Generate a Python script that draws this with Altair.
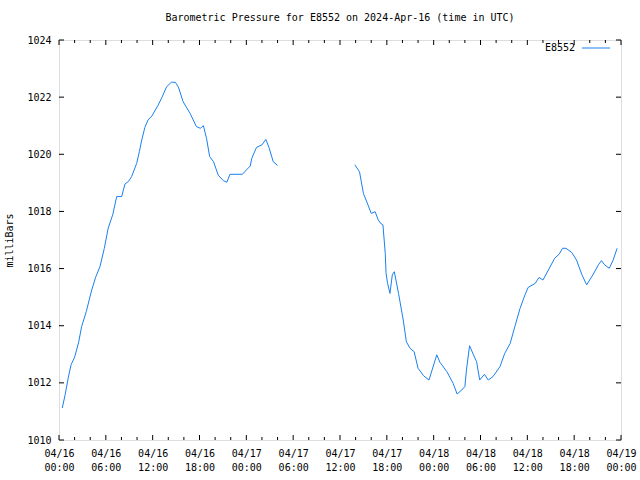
import altair as alt
import pandas as pd

# ---- data (hours after 2024-04-16 00:00 UTC, pressure in mbar) ----
seg1_hours = [0.42, 0.8, 1.2, 1.54, 2.0, 2.5, 2.9, 3.5, 4.19, 4.7, 5.25, 5.8, 6.3, 6.9,
              7.39, 8.03, 8.45, 8.9, 9.3, 9.95, 10.3, 10.6, 11.0, 11.4, 11.9, 12.7, 13.2,
              13.8, 14.4, 14.9, 15.3, 15.9, 16.8, 17.6, 18.1, 18.5, 18.9, 19.3, 19.8, 20.4,
              21.05, 21.5, 21.9, 23.5, 24.0, 24.5, 24.7, 25.3, 26.0, 26.5, 26.9, 27.45, 28.0]
seg1_mbar = [1011.12, 1011.6, 1012.2, 1012.63, 1012.9, 1013.4, 1013.97, 1014.5, 1015.25,
             1015.7, 1016.07, 1016.7, 1017.41, 1017.9, 1018.52, 1018.52, 1018.96, 1019.05,
             1019.22, 1019.68, 1020.1, 1020.5, 1020.94, 1021.2, 1021.34, 1021.72, 1022.0,
             1022.37, 1022.52, 1022.52, 1022.35, 1021.84, 1021.43, 1020.97, 1020.91, 1021.0,
             1020.56, 1019.92, 1019.74, 1019.27, 1019.08, 1019.02, 1019.3, 1019.3, 1019.45,
             1019.59, 1019.86, 1020.24, 1020.33, 1020.52, 1020.24, 1019.74, 1019.61]

seg2_hours = [37.9, 38.5, 39.0, 39.6, 40.0, 40.5, 40.9, 41.3, 41.5, 41.8, 41.9, 42.1, 42.4,
              42.7, 42.96, 43.5, 44.1, 44.5, 44.97, 45.5, 46.0, 46.7, 47.4, 48.4, 48.8, 49.7,
              50.5, 51.0, 51.6, 52.0, 52.2, 52.6, 53.1, 53.5, 53.9, 54.5, 55.0, 55.6, 56.5,
              57.1, 57.8, 58.4, 59.06, 59.7, 60.1, 61.0, 61.5, 62.0, 62.7, 63.5, 64.1, 64.5,
              64.95, 65.7, 66.3, 67.0, 67.6, 68.4, 69.1, 69.5, 69.9, 70.5, 71.0, 71.5]
seg2_mbar = [1019.63, 1019.39, 1018.63, 1018.22, 1017.93, 1017.99, 1017.7, 1017.56, 1017.53,
             1016.53, 1015.83, 1015.48, 1015.13, 1015.78, 1015.89, 1015.13, 1014.2, 1013.44,
             1013.21, 1013.09, 1012.51, 1012.25, 1012.1, 1012.98, 1012.72, 1012.39, 1011.98,
             1011.61, 1011.75, 1011.87, 1012.45, 1013.3, 1012.98, 1012.74, 1012.1, 1012.3,
             1012.1, 1012.22, 1012.57, 1013.03, 1013.38, 1013.97, 1014.6, 1015.08, 1015.34,
             1015.48, 1015.69, 1015.6, 1015.95, 1016.36, 1016.51, 1016.71, 1016.71, 1016.56,
             1016.3, 1015.78, 1015.43, 1015.78, 1016.13, 1016.28, 1016.13, 1016.01, 1016.3,
             1016.71]

station = "E8552"
title_text = "Barometric Pressure for E8552 on 2024-Apr-16 (time in UTC)"
y_ticks = [1010, 1012, 1014, 1016, 1018, 1020, 1022, 1024]
major_hours = list(range(0, 73, 6))
minor_hours = [h for h in range(0, 73, 2) if h % 6 != 0]

FONT = "DejaVu Sans Mono"
LINE_COLOR = "#1a80f0"
W, H = 562, 400
MAJ, MIN = 5, 3

base = pd.Timestamp("2024-04-16 00:00:00")


def to_time(h):
    return (base + pd.to_timedelta(h, unit="h")).strftime("%Y-%m-%dT%H:%M:%S")


df = pd.DataFrame({
    "t": [to_time(h) for h in seg1_hours] + [to_time(h) for h in seg2_hours],
    "p": seg1_mbar + seg2_mbar,
    "seg": [1] * len(seg1_hours) + [2] * len(seg2_hours),
})
major_df = pd.DataFrame({"t": [to_time(h) for h in major_hours]})
minor_df = pd.DataFrame({"t": [to_time(h) for h in minor_hours]})
ytick_df = pd.DataFrame({"p": y_ticks})


def dt(h):
    d = base + pd.to_timedelta(h, unit="h")
    return alt.DateTime(year=d.year, month=d.month, date=d.day, hours=d.hour)


xscale = alt.Scale(domain=[dt(0), dt(72)])
yscale = alt.Scale(domain=[1010, 1024], nice=False, zero=False)

common_axis = dict(domain=False, grid=False, ticks=False, tickSize=0,
                   labelFont=FONT, labelFontSize=10, labelColor="black",
                   labelFlush=False, labelOverlap=False)

x_main = alt.Axis(orient="bottom", values=[dt(h) for h in major_hours],
                  labelPadding=8, labelLineHeight=14, labelBaseline="top",
                  labelExpr="[timeFormat(datum.value, '%m/%d'), timeFormat(datum.value, '%H:%M')]",
                  title=None, **common_axis)
y_main = alt.Axis(orient="left", values=y_ticks, format="d", labelPadding=8,
                  title="milliBars", titleFont=FONT, titleFontSize=10, titleFontWeight="normal",
                  titleColor="black", titlePadding=12, **common_axis)

line = alt.Chart(df).mark_line(color=LINE_COLOR, strokeWidth=1, interpolate="linear").encode(
    x=alt.X("t:T", scale=xscale, axis=x_main),
    y=alt.Y("p:Q", scale=yscale, axis=y_main),
    detail="seg:N",
)


def xticks(data, size):
    bottom = alt.Chart(data).mark_rule(color="black", strokeWidth=1).encode(
        x=alt.X("t:T", scale=xscale, axis=None), y=alt.value(H), y2=alt.value(H - size))
    top = alt.Chart(data).mark_rule(color="black", strokeWidth=1).encode(
        x=alt.X("t:T", scale=xscale, axis=None), y=alt.value(0), y2=alt.value(size))
    return [bottom, top]


yt_left = alt.Chart(ytick_df).mark_rule(color="black", strokeWidth=1).encode(
    y=alt.Y("p:Q", scale=yscale, axis=None), x=alt.value(0), x2=alt.value(MAJ))
yt_right = alt.Chart(ytick_df).mark_rule(color="black", strokeWidth=1).encode(
    y=alt.Y("p:Q", scale=yscale, axis=None), x=alt.value(W), x2=alt.value(W - MAJ))

legend_df = pd.DataFrame({"label": [station]})
legend_text = alt.Chart(legend_df).mark_text(
    font=FONT, fontSize=10, align="right", baseline="middle", color="black"
).encode(text="label:N", x=alt.value(516), y=alt.value(8))
legend_line = alt.Chart(legend_df).mark_rule(color=LINE_COLOR, strokeWidth=1).encode(
    x=alt.value(523), x2=alt.value(551), y=alt.value(8)
)

layers = [line] + xticks(major_df, MAJ) + xticks(minor_df, MIN) + [yt_left, yt_right,
                                                                   legend_text, legend_line]

chart = alt.layer(*layers).resolve_axis(x="independent", y="independent").properties(
    width=W, height=H,
    title=alt.Title(title_text, font=FONT, fontSize=10, fontWeight="normal", color="black",
                    anchor="middle", offset=12),
    autosize=alt.AutoSizeParams(type="none"),
    padding={"left": 59, "top": 40, "right": 19, "bottom": 40},
).configure_view(stroke="black", strokeWidth=1).configure(background="white")

chart.save("out.html", embed_options={"renderer": "svg", "actions": False})
